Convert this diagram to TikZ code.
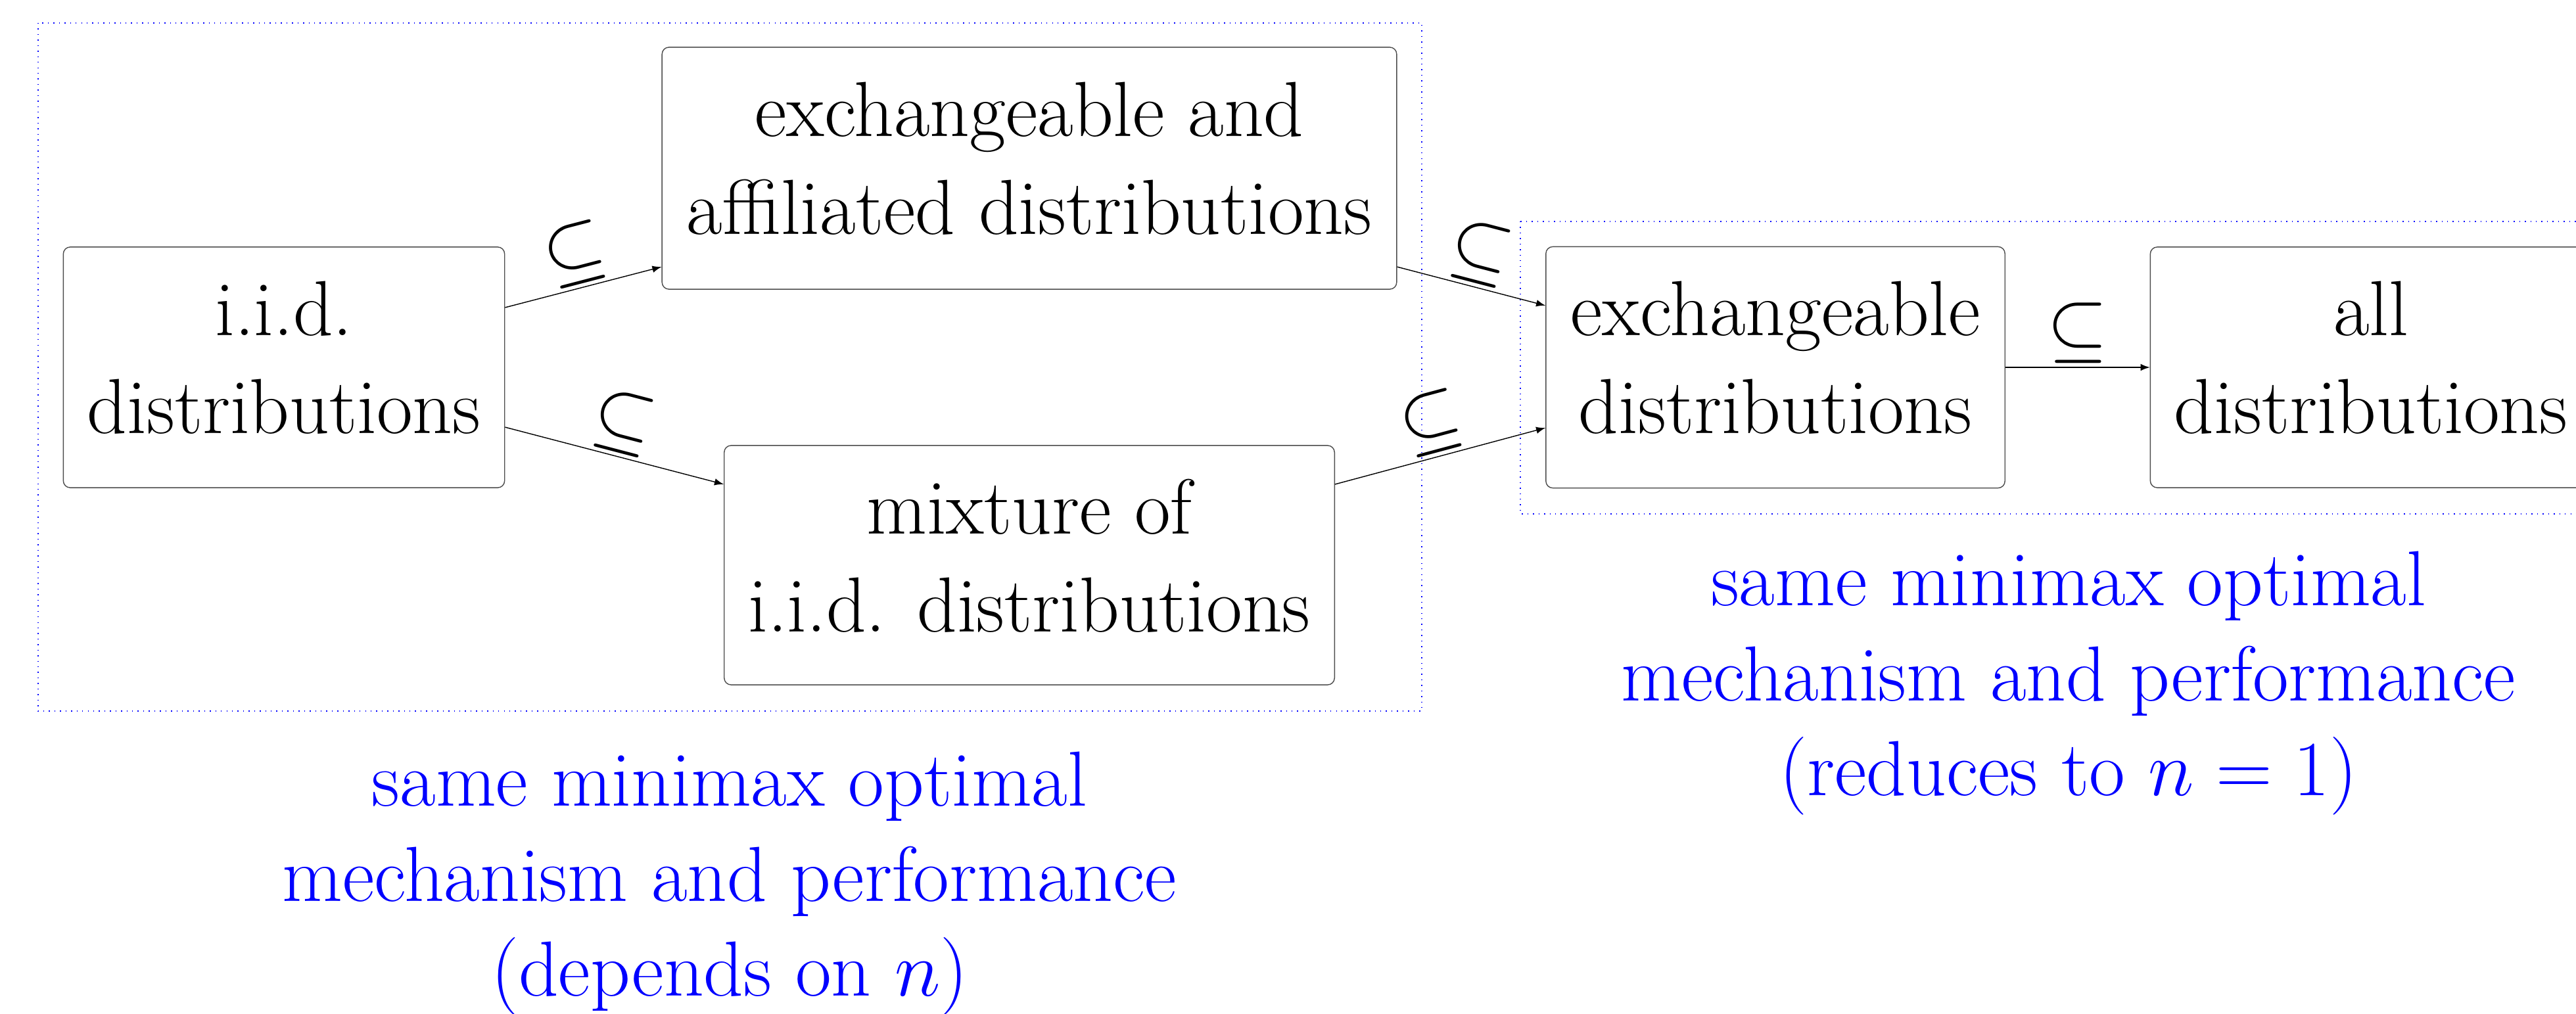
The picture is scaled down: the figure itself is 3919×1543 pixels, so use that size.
\RequirePackage{fix-cm}
\documentclass[tikz,border=0pt]{standalone}

\begin{document}
\begin{tikzpicture}[x=0.01cm,y=-0.01cm,
   setbox/.style={draw=black!70,rounded corners=3pt,align=center,inner sep=0pt,
      text depth=8.5pt,font=\fontsize{33.8}{42.4}\selectfont},
   subset/.style={midway,above,sloped,inner sep=1.5pt,font=\fontsize{33.8}{42.1}\selectfont},
   note/.style={text=blue,align=center,font=\fontsize{33.8}{41.1}\selectfont},
   group/.style={blue,dotted}]
   \clip (0,0) rectangle (3919,1543);
   % the two groups
   \draw[group] (58,35) rectangle (2163,1082);
   \draw[group] (2313,337) rectangle (4000,782);
   % classes of distributions
   \node[setbox,minimum width=6.71cm,minimum height=3.66cm] (iid) at (432,559) {i.i.d.\\distributions};
   \node[setbox,minimum width=11.17cm,minimum height=3.68cm] (exaff) at (1566,256) {exchangeable and\\affiliated distributions};
   \node[setbox,minimum width=9.28cm,minimum height=3.64cm] (mix) at (1566,860) {mixture of\\i.i.d. distributions};
   \node[setbox,minimum width=6.98cm,minimum height=3.67cm] (exch) at (2701,559) {exchangeable\\distributions};
   \node[setbox,minimum width=6.71cm,minimum height=3.66cm] (all) at (3607,559) {all\\distributions};
   % inclusions
   \draw[-latex] ([yshift=0.91cm]iid.east) -- ([yshift=-1.5cm]exaff.west) node[subset] (s1) {$\subseteq$};
   \draw[-latex] ([yshift=-0.91cm]iid.east) -- ([yshift=1.23cm]mix.west) node[subset] (s2) {$\subseteq$};
   \draw[-latex] ([yshift=-1.5cm]exaff.east) -- ([yshift=0.94cm]exch.west) node[subset] (s3) {$\subseteq$};
   \draw[-latex] ([yshift=1.23cm]mix.east) -- ([yshift=-0.92cm]exch.west) node[subset] (s4) {$\subseteq$};
   \draw[-latex] (exch) -- (all) node[subset] (s5) {$\subseteq$};
   % remarks
   \node[note] (leftnote) at (1110,1345) {same minimax optimal\\mechanism and performance\\(depends on $n$)};
   \node[note] (rightnote) at (3147,1040) {same minimax optimal\\mechanism and performance\\(reduces to $n=1$)};
\end{tikzpicture}
\end{document}
